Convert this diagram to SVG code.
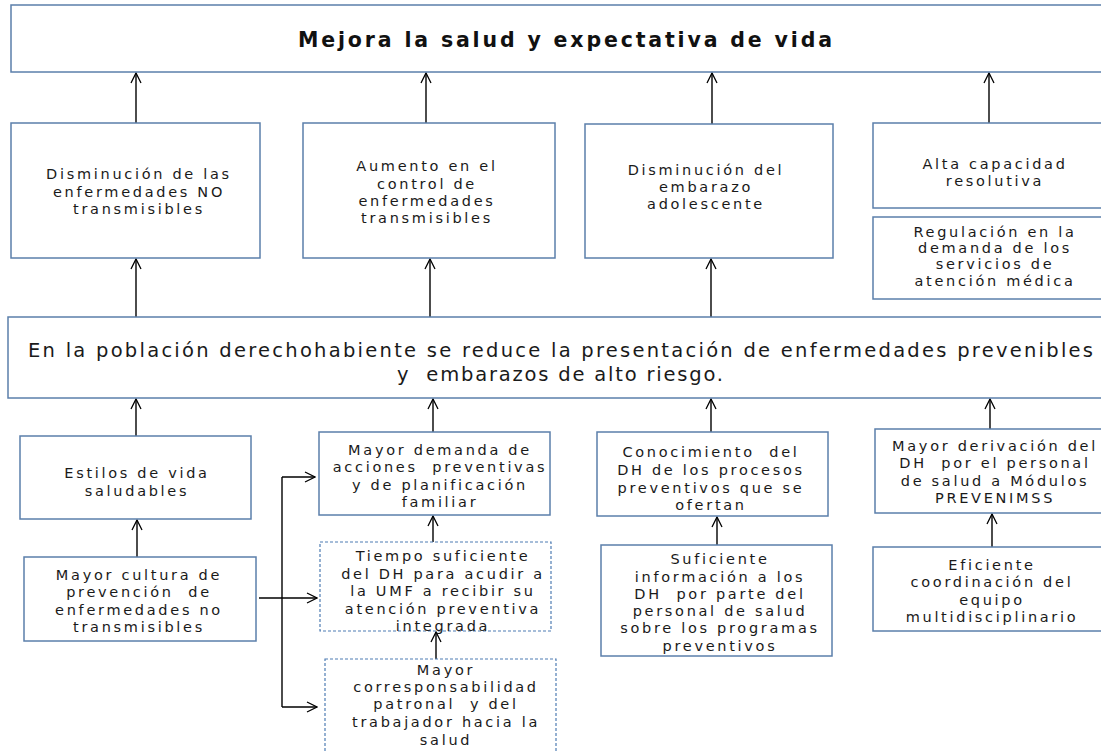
<svg xmlns="http://www.w3.org/2000/svg" width="1101" height="751" viewBox="0 0 1101 751">
<style>
.box{fill:#fff;stroke:#5b7fab;stroke-width:1.5}
.dash{fill:#fff;stroke:#4f7cb3;stroke-width:1.2;stroke-dasharray:3 2}
.t{font-family:"DejaVu Sans",sans-serif;font-size:14.5px;letter-spacing:2.7px;fill:#1a1a1a;text-anchor:middle;white-space:pre}
.big{font-family:"DejaVu Sans",sans-serif;font-size:19.5px;fill:#1a1a1a;white-space:pre}
.title{font-family:"DejaVu Sans",sans-serif;font-size:20.5px;font-weight:bold;fill:#111}
.c{fill:none;stroke:#000;stroke-width:1.4}
</style>
<defs>
<marker id="ah" viewBox="0 0 12 12" refX="11" refY="6" markerWidth="12" markerHeight="12" markerUnits="userSpaceOnUse" orient="auto">
<path d="M1,1 L11,6 L1,11" fill="none" stroke="#000" stroke-width="1.3"/>
</marker>
</defs>
<rect width="1101" height="751" fill="#fff"/>

<g id="connectors">
<line class="c" x1="136" y1="123" x2="136" y2="73" marker-end="url(#ah)"/>
<line class="c" x1="426" y1="123" x2="426" y2="73" marker-end="url(#ah)"/>
<line class="c" x1="712" y1="124" x2="712" y2="73" marker-end="url(#ah)"/>
<line class="c" x1="989" y1="123" x2="989" y2="73" marker-end="url(#ah)"/>
<line class="c" x1="136" y1="317" x2="136" y2="259" marker-end="url(#ah)"/>
<line class="c" x1="430" y1="317" x2="430" y2="259" marker-end="url(#ah)"/>
<line class="c" x1="711" y1="317" x2="711" y2="259" marker-end="url(#ah)"/>
<line class="c" x1="136" y1="436" x2="136" y2="399" marker-end="url(#ah)"/>
<line class="c" x1="433" y1="432" x2="433" y2="399" marker-end="url(#ah)"/>
<line class="c" x1="711" y1="432" x2="711" y2="399" marker-end="url(#ah)"/>
<line class="c" x1="990" y1="429" x2="990" y2="399" marker-end="url(#ah)"/>
<line class="c" x1="137" y1="557" x2="137" y2="520" marker-end="url(#ah)"/>
<line class="c" x1="433" y1="542" x2="433" y2="516" marker-end="url(#ah)"/>
<line class="c" x1="436" y1="659" x2="436" y2="632" marker-end="url(#ah)"/>
<line class="c" x1="717" y1="545" x2="717" y2="517" marker-end="url(#ah)"/>
<line class="c" x1="992" y1="547" x2="992" y2="514" marker-end="url(#ah)"/>
<line class="c" x1="259" y1="598" x2="317" y2="598" marker-end="url(#ah)"/>
<line class="c" x1="282" y1="477" x2="282" y2="707"/>
<line class="c" x1="282" y1="477" x2="315" y2="477" marker-end="url(#ah)"/>
<line class="c" x1="282" y1="707" x2="317" y2="707" marker-end="url(#ah)"/>
</g>

<g id="n-title">
<rect class="box" x="11" y="5" width="1107" height="67"/>
<text class="title" x="298" y="47" textLength="534" lengthAdjust="spacing">Mejora la salud y expectativa de vida</text>
</g>

<g id="n-dis-nt">
<rect class="box" x="11" y="123" width="249" height="135"/>
<text class="t" x="139" y="179">Disminución de las</text>
<text class="t" x="139" y="197">enfermedades NO</text>
<text class="t" x="139" y="214">transmisibles</text>
</g>

<g id="n-aumento">
<rect class="box" x="303" y="123" width="252" height="135"/>
<text class="t" x="427" y="171">Aumento en el</text>
<text class="t" x="427" y="189">control de</text>
<text class="t" x="427" y="206">enfermedades</text>
<text class="t" x="427" y="223">transmisibles</text>
</g>

<g id="n-embarazo">
<rect class="box" x="585" y="124" width="248" height="134"/>
<text class="t" x="706" y="175">Disminución del</text>
<text class="t" x="706" y="192">embarazo</text>
<text class="t" x="706" y="209">adolescente</text>
</g>

<g id="n-alta">
<rect class="box" x="873" y="123" width="245" height="85"/>
<text class="t" x="995" y="169">Alta capacidad</text>
<text class="t" x="995" y="186">resolutiva</text>
</g>

<g id="n-regulacion">
<rect class="box" x="873" y="217" width="245" height="82"/>
<text class="t" x="995" y="237">Regulación en la</text>
<text class="t" x="995" y="253">demanda de los</text>
<text class="t" x="995" y="269">servicios de</text>
<text class="t" x="995" y="286">atención médica</text>
</g>

<g id="n-middle">
<rect class="box" x="8" y="317" width="1110" height="81"/>
<text class="big" x="28" y="357" textLength="1065" lengthAdjust="spacing">En la población derechohabiente se reduce la presentación de enfermedades prevenibles</text>
<text class="big" x="397" y="381" textLength="326" lengthAdjust="spacing">y  embarazos de alto riesgo.</text>
</g>

<g id="n-estilos">
<rect class="box" x="20" y="436" width="231" height="83"/>
<text class="t" x="137" y="478">Estilos de vida</text>
<text class="t" x="137" y="496">saludables</text>
</g>

<g id="n-cultura">
<rect class="box" x="24" y="557" width="232" height="84"/>
<text class="t" x="139" y="580">Mayor cultura de</text>
<text class="t" x="139" y="597">prevención  de</text>
<text class="t" x="139" y="615">enfermedades no</text>
<text class="t" x="139" y="632">transmisibles</text>
</g>

<g id="n-demanda">
<rect class="box" x="319" y="432" width="231" height="83"/>
<text class="t" x="440" y="455">Mayor demanda de</text>
<text class="t" x="440" y="472">acciones  preventivas</text>
<text class="t" x="440" y="490">y de planificación</text>
<text class="t" x="440" y="507">familiar</text>
</g>

<g id="n-tiempo">
<rect class="dash" x="320" y="542" width="231" height="89"/>
<text class="t" x="443" y="561">Tiempo suficiente</text>
<text class="t" x="443" y="579">del DH para acudir a</text>
<text class="t" x="443" y="596">la UMF a recibir su</text>
<text class="t" x="443" y="614">atención preventiva</text>
<text class="t" x="443" y="631">integrada</text>
</g>

<g id="n-corresp">
<rect class="dash" x="325" y="659" width="231" height="110"/>
<text class="t" x="446" y="675">Mayor</text>
<text class="t" x="446" y="692">corresponsabilidad</text>
<text class="t" x="446" y="709">patronal  y del</text>
<text class="t" x="446" y="727">trabajador hacia la</text>
<text class="t" x="446" y="745">salud</text>
</g>

<g id="n-conocimiento">
<rect class="box" x="597" y="432" width="231" height="84"/>
<text class="t" x="711" y="457">Conocimiento  del</text>
<text class="t" x="711" y="475">DH de los procesos</text>
<text class="t" x="711" y="493">preventivos que se</text>
<text class="t" x="711" y="510">ofertan</text>
</g>

<g id="n-suficiente">
<rect class="box" x="601" y="545" width="231" height="111"/>
<text class="t" x="720" y="564">Suficiente</text>
<text class="t" x="720" y="582">información a los</text>
<text class="t" x="720" y="599">DH  por parte del</text>
<text class="t" x="720" y="616">personal de salud</text>
<text class="t" x="720" y="633">sobre los programas</text>
<text class="t" x="720" y="651">preventivos</text>
</g>

<g id="n-derivacion">
<rect class="box" x="875" y="429" width="243" height="84"/>
<text class="t" x="995" y="451">Mayor derivación del</text>
<text class="t" x="995" y="468">DH  por el personal</text>
<text class="t" x="995" y="486">de salud a Módulos</text>
<text class="t" x="995" y="503">PREVENIMSS</text>
</g>

<g id="n-eficiente">
<rect class="box" x="873" y="547" width="245" height="84"/>
<text class="t" x="992" y="570">Eficiente</text>
<text class="t" x="992" y="587">coordinación del</text>
<text class="t" x="992" y="605">equipo</text>
<text class="t" x="992" y="622">multidisciplinario</text>
</g>
</svg>
